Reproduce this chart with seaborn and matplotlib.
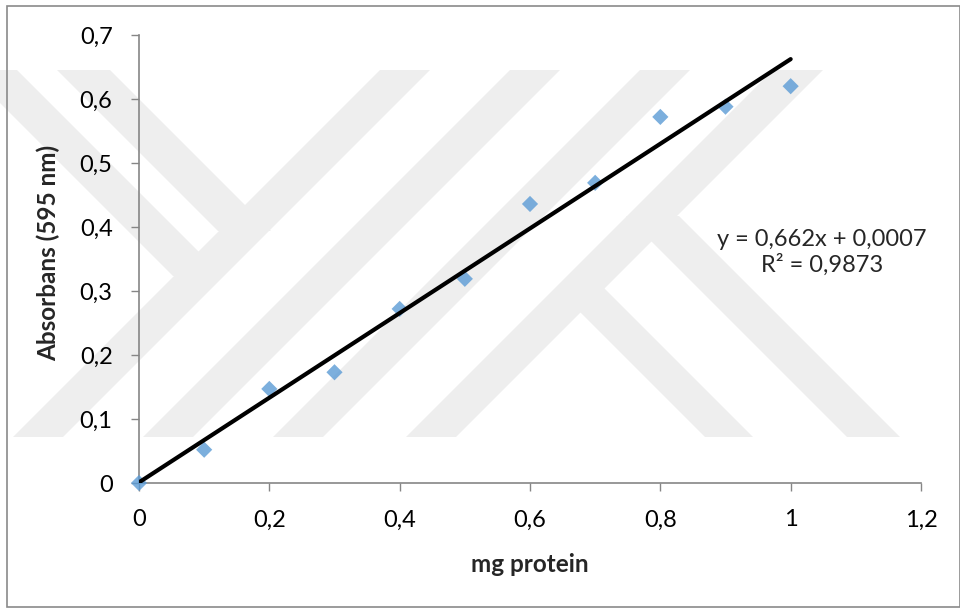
import numpy as np
import pandas as pd
import matplotlib
matplotlib.use("Agg")
import matplotlib.pyplot as plt
from matplotlib.patches import Polygon, Rectangle
import seaborn as sns

# ---- data ----
mg_protein = [0.0, 0.1, 0.2, 0.3, 0.4, 0.5, 0.6, 0.7, 0.8, 0.9, 1.0]
absorbance = [0.000, 0.052, 0.147, 0.173, 0.272, 0.319, 0.436, 0.469, 0.572, 0.588, 0.620]
x_ticks = [0, 0.2, 0.4, 0.6, 0.8, 1.0, 1.2]
x_tick_labels = ["0", "0,2", "0,4", "0,6", "0,8", "1", "1,2"]
y_ticks = [0, 0.1, 0.2, 0.3, 0.4, 0.5, 0.6, 0.7]
y_tick_labels = ["0", "0,1", "0,2", "0,3", "0,4", "0,5", "0,6", "0,7"]
equation_text = "y = 0,662x + 0,0007\nR² = 0,9873"
x_label = "mg protein"
y_label = "Absorbans (595 nm)"

df = pd.DataFrame({"mg": mg_protein, "abs": absorbance})

sns.set_theme(style="white")
plt.rcParams["font.family"] = ["Lato", "DejaVu Sans"]

W, H = 960, 608
fig = plt.figure(figsize=(W / 100, H / 100), dpi=100)
fig.patch.set_facecolor("white")

# ---- background watermark + outer border (figure pixel coordinates) ----
bg = fig.add_axes([0, 0, 1, 1], zorder=0)
bg.set_xlim(0, W)
bg.set_ylim(H, 0)
bg.axis("off")
wm = "#eeeeee"
Y_TOP, Y_BOT = 70, 437
span = Y_BOT - Y_TOP
for x0 in [13, 143, 273, 406]:  # "/" bands
    bg.add_patch(Polygon([(x0, Y_BOT), (x0 + 50, Y_BOT), (x0 + 50 + span, Y_TOP), (x0 + span, Y_TOP)],
                         closed=True, facecolor=wm, edgecolor="none"))
back_bands = [  # "\" bands: (x_left_top, y_top, x_left_bottom, y_bottom, width)
    (57, 70, 218, 231, 53),
    (-33, 70, 173, 276, 50),
    (556, 288, 705, 437, 48),
    (626, 216, 847, 437, 53),
]
for xa, ya, xb, yb, w in back_bands:
    bg.add_patch(Polygon([(xa, ya), (xa + w, ya), (xb + w, yb), (xb, yb)],
                         closed=True, facecolor=wm, edgecolor="none"))
bg.add_patch(Rectangle((7, 6), W - 7, 601, facecolor="none", edgecolor="#8a8a8a", lw=1.2))

# ---- main axes ----
left, right = 139 / W, 921 / W
bottom, top = 1 - 483 / H, 1 - 35 / H
ax = fig.add_axes([left, bottom, right - left, top - bottom], zorder=1)
ax.set_facecolor("none")

sns.regplot(data=df, x="mg", y="abs", ax=ax, ci=None, truncate=True, marker="D",
            scatter_kws=dict(s=68, color="#5b9bd5", edgecolors="none", zorder=3, clip_on=False),
            line_kws=dict(color="black", lw=3.0, solid_capstyle="round", zorder=4))

ax.set_xlim(0, 1.2)
ax.set_ylim(0, 0.7)
ax.set_xticks(x_ticks)
ax.set_xticklabels(x_tick_labels)
ax.set_yticks(y_ticks)
ax.set_yticklabels(y_tick_labels)
ax.tick_params(axis="both", direction="out", length=6, width=1, color="#868686",
               labelsize=17, labelcolor="black", pad=13)
ax.tick_params(axis="both", which="both", bottom=True, left=True)
for s in ["top", "right"]:
    ax.spines[s].set_visible(False)
for s in ["left", "bottom"]:
    ax.spines[s].set_color("#868686")
    ax.spines[s].set_linewidth(1.2)
ax.grid(False)

ax.set_xlabel("")
ax.set_ylabel("")
fig.text(530 / W, 1 - 565 / H, x_label, ha="center", va="center", fontsize=17.5, fontweight="bold")
fig.text(48 / W, 1 - 253 / H, y_label, ha="center", va="center", rotation=90, fontsize=17.5,
         fontweight="bold")
fig.text(822 / W, 1 - 252 / H, equation_text, ha="center", va="center", fontsize=17,
         linespacing=1.2, multialignment="center")

fig.savefig("out.png", dpi=100)
